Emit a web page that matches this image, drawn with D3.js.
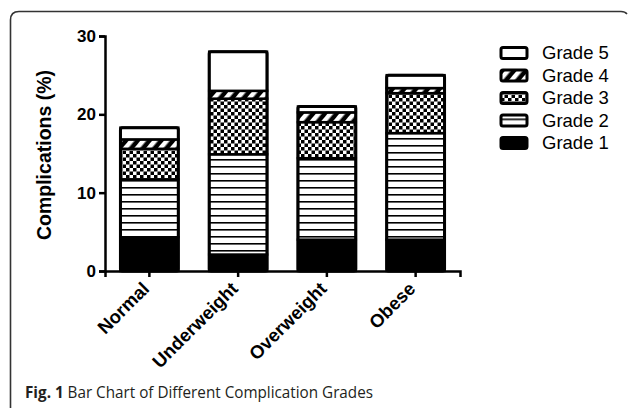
<!DOCTYPE html>
<html lang="en">
<head>
<meta charset="utf-8">
<title>Complication Grades</title>
<script src="https://d3js.org/d3.v7.min.js"></script>
<style>
  body { margin: 0; background: white; }
  svg { display: block; }
</style>
</head>
<body>
<svg width="628" height="408"></svg>
<script>
// data
const groups = ["Normal", "Underweight", "Overweight", "Obese"];
const grades = ["Grade 1", "Grade 2", "Grade 3", "Grade 4", "Grade 5"];
const grade1 = [4.3, 2.1, 4.0, 4.0];
const grade2 = [7.4, 12.8, 10.4, 13.6];
const grade3 = [3.9, 7.1, 4.6, 5.1];
const grade4 = [1.2, 1.0, 1.25, 0.65];
const grade5 = [1.5, 5.0, 0.75, 1.65];
const yTicks = [0, 10, 20, 30];

const svg = d3.select("svg");

// patterns
const defs = svg.append("defs");
const pStripe = defs.append("pattern").attr("id", "g2")
  .attr("patternUnits", "userSpaceOnUse").attr("width", 10).attr("height", 7);
pStripe.append("rect").attr("width", 10).attr("height", 7).attr("fill", "white");
pStripe.append("rect").attr("y", 5).attr("width", 10).attr("height", 1.6).attr("fill", "black");

const pCheck = defs.append("pattern").attr("id", "g3")
  .attr("patternUnits", "userSpaceOnUse").attr("width", 7).attr("height", 7);
pCheck.append("rect").attr("width", 7).attr("height", 7).attr("fill", "white");
pCheck.append("rect").attr("width", 3.5).attr("height", 3.5).attr("fill", "black");
pCheck.append("rect").attr("x", 3.5).attr("y", 3.5).attr("width", 3.5).attr("height", 3.5).attr("fill", "black");

const pHatch = defs.append("pattern").attr("id", "g4")
  .attr("patternUnits", "userSpaceOnUse").attr("width", 9).attr("height", 9)
  .attr("patternTransform", "rotate(40)");
pHatch.append("rect").attr("width", 9).attr("height", 9).attr("fill", "black");
pHatch.append("rect").attr("width", 4.5).attr("height", 9).attr("fill", "white");

const fills = ["black", "url(#g2)", "url(#g3)", "url(#g4)", "white"];

// frame
svg.append("path")
  .attr("d", "M10.5,408 L10.5,20 Q10.5,11.5 19,11.5 L621,11.5 Q625,11.5 627,14")
  .attr("fill", "none").attr("stroke", "#333").attr("stroke-width", 1.6);

const x = d3.scaleBand().domain(groups).range([105, 460])
  .paddingInner(0.32).paddingOuter(0.16);
const y = d3.scaleLinear().domain([0, 30]).range([271, 36]);

const table = groups.map((g, i) => ({
  group: g,
  "Grade 1": grade1[i], "Grade 2": grade2[i], "Grade 3": grade3[i],
  "Grade 4": grade4[i], "Grade 5": grade5[i]
}));
const series = d3.stack().keys(grades)(table);

// bars
const layer = svg.append("g").selectAll("g").data(series).join("g")
  .attr("fill", (d, i) => fills[i]);
layer.selectAll("rect").data(d => d).join("rect")
  .attr("x", d => x(d.data.group) + 1.25)
  .attr("width", x.bandwidth() - 2.5)
  .attr("y", d => y(d[1]))
  .attr("height", d => y(d[0]) - y(d[1]))
  .attr("stroke", "black").attr("stroke-width", 2.5);

// outline of whole bar
svg.append("g").selectAll("rect").data(table).join("rect")
  .attr("x", d => x(d.group) + 1.25)
  .attr("width", x.bandwidth() - 2.5)
  .attr("y", d => y(d3.sum(grades, k => d[k])))
  .attr("height", d => y(0) - y(d3.sum(grades, k => d[k])))
  .attr("rx", 2)
  .attr("fill", "none").attr("stroke", "black").attr("stroke-width", 3);

// axes
const yAxis = svg.append("g").attr("transform", "translate(105,0)")
  .call(d3.axisLeft(y).tickValues(yTicks).tickSize(6).tickPadding(3));
const xAxis = svg.append("g").attr("transform", "translate(0,271)")
  .call(d3.axisBottom(x).tickSize(6).tickFormat(""));
[yAxis, xAxis].forEach(a => {
  a.select(".domain").attr("stroke-width", 2.5);
  a.selectAll(".tick line").attr("stroke-width", 2.5);
});
yAxis.selectAll("text")
  .attr("font-family", "Liberation Sans, Arial, sans-serif")
  .attr("font-weight", "bold").attr("font-size", 17).attr("fill", "black");

// x labels, rotated
svg.append("g").selectAll("text").data(groups).join("text")
  .attr("transform", d => `translate(${x(d) + x.bandwidth() / 2 + 1},${290}) rotate(-45)`)
  .attr("text-anchor", "end")
  .attr("font-family", "Liberation Sans, Arial, sans-serif")
  .attr("font-weight", "bold").attr("font-size", 18.5)
  .text(d => d);

// y title
svg.append("text")
  .attr("transform", "translate(51,155) rotate(-90)")
  .attr("text-anchor", "middle")
  .attr("font-family", "Liberation Sans, Arial, sans-serif")
  .attr("font-weight", "bold").attr("font-size", 19.5)
  .text("Complications (%)");

// legend
const legendRows = grades.slice().reverse();
const ly = d3.scalePoint().domain(legendRows).range([53, 143]);
const lg = svg.append("g").selectAll("g").data(legendRows).join("g")
  .attr("transform", d => `translate(501,${ly(d)})`);
lg.append("rect")
  .attr("x", 0).attr("y", -5.5).attr("width", 26).attr("height", 11).attr("rx", 2)
  .attr("fill", d => fills[grades.indexOf(d)])
  .attr("stroke", "black").attr("stroke-width", 3);
lg.append("text")
  .attr("x", 41).attr("dy", "0.35em")
  .attr("font-family", "Liberation Sans, Arial, sans-serif")
  .attr("font-size", 18.5)
  .text(d => d);

// caption
const cap = svg.append("text")
  .attr("x", 25).attr("y", 398)
  .attr("font-family", "Open Sans, sans-serif")
  .attr("font-size", 16.5).attr("fill", "#231f20")
  .attr("textLength", 348).attr("lengthAdjust", "spacingAndGlyphs");
cap.append("tspan").attr("font-weight", "bold").text("Fig. 1");
cap.append("tspan").text(" Bar Chart of Different Complication Grades");
</script>
</body>
</html>
